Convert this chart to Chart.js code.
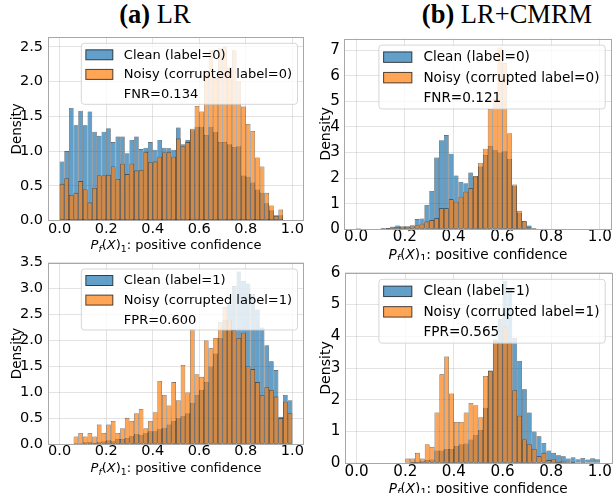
<!DOCTYPE html>
<html>
<head>
<meta charset="utf-8">
<script src="https://cdn.jsdelivr.net/npm/chart.js@4.4.1/dist/chart.umd.min.js"></script>
<style>
  html, body { margin: 0; padding: 0; background: #fff; }
  #page { position: relative; width: 615px; height: 493px; overflow: hidden; background: #fff; }
  canvas { position: absolute; }
  .title { position: absolute; top: -1px; font-family: "Liberation Serif", serif; font-size: 26.5px; white-space: nowrap; transform: translateX(-50%); color: #000; }
</style>
</head>
<body>
<div id="page">
  <div class="title" style="left:155px"><b>(a)</b> LR</div>
  <div class="title" style="left:507px"><b>(b)</b> LR+CMRM</div>
  <canvas id="aTop" width="310" height="228" style="left:0px;top:28px"></canvas>
  <canvas id="aBottom" width="310" height="243" style="left:0px;top:250px"></canvas>
  <canvas id="bTop" width="305" height="232" style="left:310px;top:28px"></canvas>
  <canvas id="bBottom" width="305" height="235" style="left:310px;top:258px"></canvas>
</div>
<script>
// histogram bins (0.02 wide) on [0, 1]
var binCenters = [0.01, 0.03, 0.05, 0.07, 0.09, 0.11, 0.13, 0.15, 0.17, 0.19,
  0.21, 0.23, 0.25, 0.27, 0.29, 0.31, 0.33, 0.35, 0.37, 0.39,
  0.41, 0.43, 0.45, 0.47, 0.49, 0.51, 0.53, 0.55, 0.57, 0.59,
  0.61, 0.63, 0.65, 0.67, 0.69, 0.71, 0.73, 0.75, 0.77, 0.79,
  0.81, 0.83, 0.85, 0.87, 0.89, 0.91, 0.93, 0.95, 0.97, 0.99];
var xTicks = [0.0, 0.2, 0.4, 0.6, 0.8, 1.0];

// (a) LR, label = 0
var lrClean0 = [0.85, 1.00, 1.62, 1.37, 1.58, 1.37, 1.57, 1.28, 1.22, 1.28,
  1.33, 1.13, 1.21, 1.21, 0.97, 1.16, 1.21, 1.03, 1.05, 1.13,
  1.02, 1.16, 1.05, 1.04, 1.02, 1.34, 1.10, 1.16, 1.30, 1.35,
  1.35, 1.23, 1.35, 1.28, 1.13, 1.13, 1.10, 1.06, 1.07, 0.65,
  0.63, 0.55, 0.45, 0.40, 0.25, 0.15, 0.08, 0.08, 0.00, 0.00];
var lrNoisy0 = [0.53, 0.61, 0.37, 0.40, 0.57, 0.45, 0.26, 0.47, 0.65, 0.65,
  0.66, 0.78, 0.60, 0.82, 0.67, 0.82, 0.72, 0.73, 0.99, 0.84,
  0.85, 0.92, 0.98, 0.99, 0.92, 1.18, 1.07, 1.13, 1.32, 1.65,
  1.57, 2.15, 2.45, 2.05, 2.48, 2.50, 2.20, 2.45, 2.00, 1.64,
  1.39, 1.29, 0.91, 0.78, 0.40, 0.22, 0.07, 0.16, 0.00, 0.00];
var lrTicks0 = [0.0, 0.5, 1.0, 1.5, 2.0, 2.5];

// (a) LR, label = 1
var lrClean1 = [0.00, 0.00, 0.00, 0.02, 0.02, 0.04, 0.05, 0.03, 0.05, 0.06,
  0.08, 0.06, 0.10, 0.10, 0.12, 0.16, 0.20, 0.18, 0.22, 0.25,
  0.25, 0.30, 0.32, 0.38, 0.45, 0.50, 0.55, 0.60, 0.80, 0.95,
  1.05, 1.20, 1.50, 1.75, 2.05, 2.40, 2.70, 3.05, 3.33, 3.15,
  3.10, 2.90, 2.60, 2.25, 1.91, 1.60, 1.43, 0.53, 0.95, 0.85];
var lrNoisy1 = [0.00, 0.00, 0.00, 0.15, 0.22, 0.15, 0.22, 0.15, 0.38, 0.22,
  0.38, 0.45, 0.22, 0.31, 0.51, 0.45, 0.60, 0.68, 0.31, 0.45,
  0.62, 1.22, 0.95, 0.75, 1.20, 0.85, 1.53, 1.00, 2.22, 1.35,
  1.30, 2.00, 1.85, 2.05, 2.35, 2.65, 2.40, 2.20, 2.05, 2.15,
  1.50, 1.45, 1.20, 0.95, 1.10, 1.05, 0.92, 0.50, 0.82, 0.60];
var lrTicks1 = [0.0, 0.5, 1.0, 1.5, 2.0, 2.5, 3.0, 3.5];

// (b) LR+CMRM, label = 0
var cmClean0 = [0.04, 0.02, 0.00, 0.00, 0.00, 0.03, 0.05, 0.10, 0.15, 0.10,
  0.12, 0.15, 0.40, 0.42, 0.95, 1.50, 2.80, 3.48, 3.68, 2.95,
  2.10, 1.85, 1.80, 2.22, 2.05, 2.45, 2.90, 3.25, 3.10, 3.00,
  3.05, 2.75, 1.70, 0.65, 0.30, 0.15, 0.05, 0.02, 0.01, 0.00,
  0.00, 0.00, 0.00, 0.00, 0.00, 0.00, 0.00, 0.00, 0.00, 0.00];
var cmNoisy0 = [0.03, 0.00, 0.00, 0.00, 0.00, 0.05, 0.05, 0.10, 0.08, 0.12,
  0.10, 0.15, 0.15, 0.22, 0.30, 0.36, 0.43, 0.82, 0.82, 1.17,
  1.08, 1.27, 1.47, 1.60, 2.08, 2.60, 3.15, 4.70, 5.10, 7.10,
  6.50, 3.75, 1.75, 0.72, 0.32, 0.08, 0.02, 0.02, 0.00, 0.02,
  0.00, 0.00, 0.00, 0.00, 0.00, 0.00, 0.00, 0.00, 0.00, 0.00];
var cmTicks0 = [0, 1, 2, 3, 4, 5, 6, 7];

// (b) LR+CMRM, label = 1
var cmClean1 = [0.00, 0.00, 0.00, 0.00, 0.00, 0.00, 0.00, 0.00, 0.00, 0.00,
  0.02, 0.05, 0.05, 0.08, 0.10, 0.12, 0.40, 0.40, 0.45, 0.45,
  0.55, 0.60, 0.62, 0.75, 0.90, 1.05, 1.75, 2.92, 3.90, 4.55,
  5.75, 5.50, 3.95, 3.22, 2.33, 1.60, 1.00, 0.85, 0.64, 0.40,
  0.33, 0.25, 0.22, 0.15, 0.19, 0.13, 0.17, 0.12, 0.16, 0.13];
var cmNoisy1 = [0.00, 0.00, 0.00, 0.00, 0.00, 0.00, 0.00, 0.00, 0.00, 0.00,
  0.15, 0.15, 0.33, 0.15, 0.60, 0.52, 1.60, 2.80, 3.36, 2.20,
  1.30, 1.30, 1.60, 1.90, 1.83, 1.45, 2.75, 2.90, 3.85, 3.80,
  4.30, 3.80, 2.30, 1.50, 0.75, 0.60, 0.45, 0.22, 0.33, 0.10,
  0.12, 0.05, 0.08, 0.03, 0.05, 0.02, 0.03, 0.02, 0.02, 0.02];
var cmTicks1 = [0, 1, 2, 3, 4, 5, 6];

var FONT = '"DejaVu Sans", sans-serif';
var BLUE = 'rgba(31,119,180,0.7)';
var ORANGE = 'rgba(255,127,14,0.7)';
var EDGE = 'rgba(0,0,0,0.7)';

function font(size, style) {
  return (style ? style + ' ' : '') + size + 'px ' + FONT;
}

// frame, rich x-axis title and in-axes legend box
var histDecor = {
  id: 'histDecor',
  afterDraw: function (chart) {
    var o = chart.options.plugins.histDecor;
    var ctx = chart.ctx, a = chart.chartArea, s = o.s;
    ctx.save();

    // spines
    ctx.strokeStyle = '#a8a8a8';
    ctx.lineWidth = 1;
    ctx.strokeRect(Math.round(a.left) + 0.5, Math.round(a.top) + 0.5,
      Math.round(a.right - a.left) - 1, Math.round(a.bottom - a.top) - 1);

    // x title  P_f(X)_1: positive confidence
    var base = 13 * s, sub = 9.3 * s;
    var parts = [
      { t: 'P', f: font(base, 'italic'), dy: 0 },
      { t: 'f', f: font(sub, 'italic'), dy: 3 * s },
      { t: '(', f: font(base), dy: 0 },
      { t: 'X', f: font(base, 'italic'), dy: 0 },
      { t: ')', f: font(base), dy: 0 },
      { t: '1', f: font(sub), dy: 3 * s },
      { t: ': positive confidence', f: font(base), dy: 0 }
    ];
    var total = 0;
    parts.forEach(function (p) { ctx.font = p.f; p.w = ctx.measureText(p.t).width; total += p.w; });
    var x = (a.left + a.right) / 2 - total / 2;
    var baseline = a.bottom + 23.3 * s + 4.7 * s;
    ctx.fillStyle = '#000';
    ctx.textBaseline = 'alphabetic';
    ctx.textAlign = 'left';
    parts.forEach(function (p) { ctx.font = p.f; ctx.fillText(p.t, x, baseline + p.dy); x += p.w; });

    // legend
    var fs = 13 * s;
    ctx.font = font(fs);
    var labels = chart.data.datasets.map(function (d) { return d.label; });
    var textW = 0;
    labels.concat([o.rate]).forEach(function (t) { textW = Math.max(textW, ctx.measureText(t).width); });
    var bw = 42.5 * s + textW + 5.5 * s, bh = 61 * s;
    var bx = a.right - 6.5 * s - bw, by = a.top + 6.3 * s, r = 3 * s;
    ctx.beginPath();
    ctx.moveTo(bx + r, by);
    ctx.arcTo(bx + bw, by, bx + bw, by + bh, r);
    ctx.arcTo(bx + bw, by + bh, bx, by + bh, r);
    ctx.arcTo(bx, by + bh, bx, by, r);
    ctx.arcTo(bx, by, bx + bw, by, r);
    ctx.closePath();
    ctx.fillStyle = 'rgba(255,255,255,0.8)';
    ctx.fill();
    ctx.strokeStyle = 'rgba(204,204,204,0.8)';
    ctx.lineWidth = 1;
    ctx.stroke();

    var rows = [
      { t: labels[0], c: BLUE },
      { t: labels[1], c: ORANGE },
      { t: o.rate, c: null }
    ];
    ctx.textBaseline = 'middle';
    rows.forEach(function (row, k) {
      var cy = by + (11.5 + 19.6 * k) * s;
      if (row.c) {
        ctx.fillStyle = row.c;
        ctx.fillRect(bx + 4.5 * s, cy - 5 * s, 27 * s, 10 * s);
        ctx.strokeStyle = EDGE;
        ctx.lineWidth = 1;
        ctx.strokeRect(bx + 4.5 * s, cy - 5 * s, 27 * s, 10 * s);
      }
      ctx.fillStyle = '#000';
      ctx.font = font(fs);
      ctx.fillText(row.t, bx + 42.5 * s, cy + 0.5);
    });
    ctx.restore();
  }
};

function buildPanel(id, clean, noisy, yTicks, yMax, labelNo, rate, g) {
  var s = g.s;
  var digits = g.digits;
  return new Chart(document.getElementById(id), {
    type: 'bar',
    data: {
      labels: binCenters,
      datasets: [
        { label: 'Clean (label=' + labelNo + ')', data: clean, backgroundColor: BLUE, order: 2 },
        { label: 'Noisy (corrupted label=' + labelNo + ')', data: noisy, backgroundColor: ORANGE, order: 1 }
      ]
    },
    options: {
      responsive: false,
      animation: false,
      events: [],
      layout: { padding: { left: 0, top: g.padTop, right: g.padRight, bottom: g.padBottom } },
      datasets: {
        bar: {
          grouped: false,
          barPercentage: 1,
          categoryPercentage: 1,
          borderColor: EDGE,
          borderWidth: 0.6,
          borderSkipped: false,
          inflateAmount: 0
        }
      },
      plugins: {
        legend: { display: false },
        tooltip: { enabled: false },
        histDecor: { s: s, rate: rate }
      },
      scales: {
        x: {
          type: 'linear',
          min: -0.05,
          max: 1.05,
          offset: false,
          z: 1,
          grid: { color: 'rgba(176,176,176,0.35)', drawTicks: false, lineWidth: 1, offset: false },
          border: { display: false },
          ticks: {
            padding: g.xPad,
            color: '#000',
            maxRotation: 0,
            font: { family: FONT, size: 14.5 * s, lineHeight: 1 },
            callback: function (v) { return Number(v).toFixed(1); }
          },
          afterBuildTicks: function (axis) {
            axis.ticks = xTicks.map(function (v) { return { value: v }; });
          },
          afterFit: function (scale) {
            scale.height = g.xAxisH;
            scale.paddingLeft = 0; scale.paddingRight = 0;
          }
        },
        y: {
          type: 'linear',
          min: 0,
          max: yMax,
          z: 1,
          grid: { color: 'rgba(176,176,176,0.35)', drawTicks: false, lineWidth: 1 },
          border: { display: false },
          title: { display: true, text: 'Density', color: '#000', padding: { top: g.yTitlePad, bottom: 0 }, font: { family: FONT, size: 13.5 * s } },
          ticks: {
            padding: g.yPad,
            color: '#000',
            font: { family: FONT, size: 14.5 * s, lineHeight: 1 },
            callback: function (v) { return Number(v).toFixed(digits); }
          },
          afterBuildTicks: function (axis) {
            axis.ticks = yTicks.map(function (v) { return { value: v }; });
          },
          afterFit: function (scale) {
            scale.width = g.yAxisW;
            scale.paddingTop = 0; scale.paddingBottom = 0;
          }
        }
      }
    },
    plugins: [histDecor]
  });
}

buildPanel('aTop', lrClean0, lrNoisy0, lrTicks0, 2.64, 0, 'FNR=0.134',
  { s: 1, yAxisW: 48, padTop: 9, padRight: 6, padBottom: 5.3, xAxisH: 30, xPad: 1, yPad: 5, yTitlePad: 8.9, digits: 1 });
buildPanel('aBottom', lrClean1, lrNoisy1, lrTicks1, 3.5, 1, 'FPR=0.600',
  { s: 1, yAxisW: 48, padTop: 12.7, padRight: 6, padBottom: 18.7, xAxisH: 30, xPad: 0, yPad: 5, yTitlePad: 8.9, digits: 1 });
buildPanel('bTop', cmClean0, cmNoisy0, cmTicks0, 7.45, 0, 'FNR=0.121',
  { s: 1.047, yAxisW: 34, padTop: 10.5, padRight: 3, padBottom: 0.7, xAxisH: 30, xPad: 0, yPad: 4, yTitlePad: 7.5, digits: 0 });
buildPanel('bBottom', cmClean1, cmNoisy1, cmTicks1, 6.0, 1, 'FPR=0.565',
  { s: 1.047, yAxisW: 34.5, padTop: 14.7, padRight: 3, padBottom: 0, xAxisH: 29.7, xPad: 1, yPad: 4, yTitlePad: 7.5, digits: 0 });
</script>
</body>
</html>
